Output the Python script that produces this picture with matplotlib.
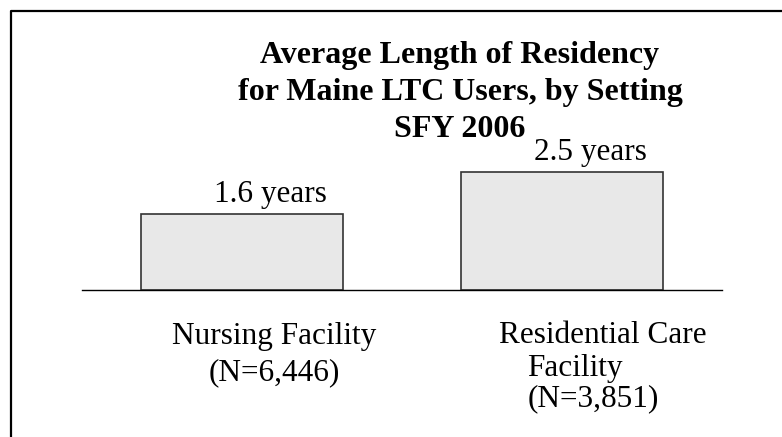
import matplotlib
matplotlib.use("Agg")
import matplotlib.pyplot as plt
from matplotlib.lines import Line2D

settings = ["Nursing Facility", "Residential Care"]
counts = ["6,446", "3,851"]
years = [1.6, 2.5]
title_lines = ["Average Length of Residency",
               "for Maine LTC Users, by Setting",
               "SFY 2006"]

plt.rcParams["font.family"] = ["Liberation Serif", "DejaVu Serif"]

fig = plt.figure(figsize=(7.82, 4.37), dpi=100)
ax = fig.add_axes([82 / 782, 147 / 437, 640 / 782, 142 / 437])

x = list(range(len(settings)))
ax.bar(x, years, width=0.63, color="#e8e8e8", edgecolor="#333333",
       linewidth=1.2, zorder=2)
ax.set_xlim(-0.5, 1.5)
ax.set_ylim(0, 3.0)

for s in ["top", "left", "right"]:
    ax.spines[s].set_visible(False)
ax.spines["bottom"].set_color("black")
ax.spines["bottom"].set_linewidth(1)
ax.set_xticks([])
ax.set_yticks([])
ax.patch.set_alpha(0)

# value labels, shifted right of the bar centre like the original
for i, v in zip(x, years):
    ax.annotate(f"{v} years", xy=(i, v), xytext=(20.5, 8.5),
                textcoords="offset points", ha="center", va="baseline",
                fontsize=22.5, annotation_clip=False)

# category labels (baseline of multi-line text = last line)
ax.annotate(f"{settings[0]}\n(N={counts[0]})", xy=(x[0], 0), xytext=(23, -65),
            textcoords="offset points", ha="center", va="baseline",
            fontsize=22.5, linespacing=1.32, annotation_clip=False)
ax.annotate(settings[1], xy=(x[1], 0), xytext=(-45.5, -38.5),
            textcoords="offset points", ha="left", va="baseline",
            fontsize=22.5, annotation_clip=False)
ax.annotate(f"Facility\n(N={counts[1]})", xy=(x[1], 0), xytext=(-25, -84),
            textcoords="offset points", ha="left", va="baseline",
            fontsize=22.5, linespacing=1.08, annotation_clip=False)

fig.text(460 / 782, (437 - 137) / 437, "\n".join(title_lines),
         ha="center", va="baseline", fontsize=23, fontweight="bold",
         linespacing=1.36)

# frame: top and left edges only
fig.add_artist(Line2D([11 / 782, 11 / 782, 1], [0, 426.5 / 437, 426.5 / 437],
                      transform=fig.transFigure, color="black", linewidth=1.6))

fig.savefig("out.png", dpi=100)
